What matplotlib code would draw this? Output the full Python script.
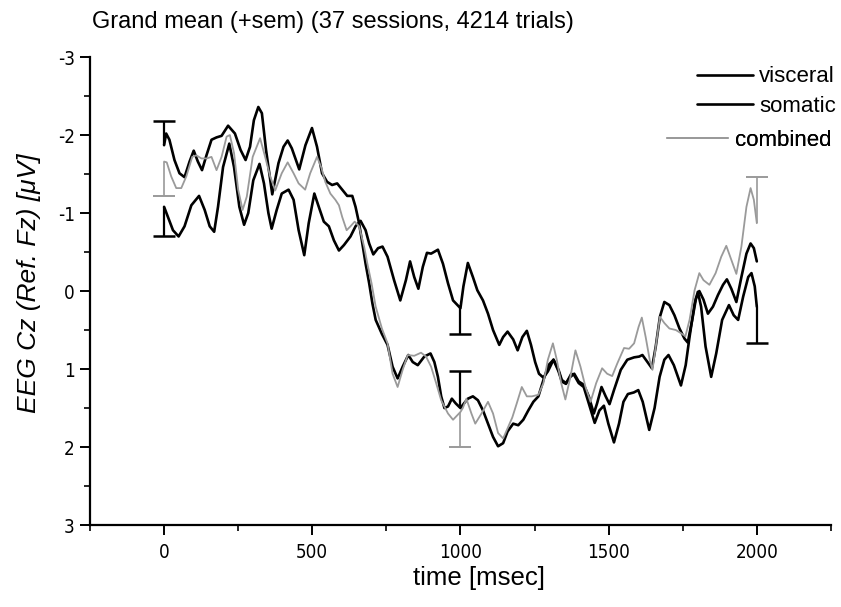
import numpy as np
import matplotlib
matplotlib.use("Agg")
import matplotlib.pyplot as plt
from matplotlib import font_manager
from matplotlib.font_manager import FontProperties
from matplotlib.ticker import MultipleLocator

plt.rcParams["axes.unicode_minus"] = False

# pick a narrow font for tick labels when one is installed
narrow_file = None
for f in font_manager.fontManager.ttflist:
    if f.name == "Liberation Sans Narrow" and f.style == "normal" and f.weight in (400, "normal", "regular"):
        narrow_file = f.fname
        break
if narrow_file is None:
    for f in font_manager.fontManager.ttflist:
        if f.name == "DejaVu Sans" and str(f.stretch) == "condensed" and f.style == "normal" \
                and f.weight in (400, "normal", "regular", "book"):
            narrow_file = f.fname
            break
SANS = "Liberation Sans"
tick_fp = FontProperties(fname=narrow_file, size=13.5) if narrow_file else FontProperties(family=SANS, size=12.5)

# ---------------- data ----------------
visceral_t = [0, 7, 18, 35, 52, 69, 86, 100, 114, 128, 143, 160, 177, 194, 216, 239, 258, 275, 290, 303,
              318, 330, 344, 365, 386, 403, 417, 431, 456, 477, 499, 516, 533, 550, 567, 584, 601, 618, 635,
              646, 658, 669, 680, 692, 703, 714, 735, 754, 771, 788, 805, 824, 839, 856, 878, 899, 912, 924,
              935, 946, 958, 971, 984, 1000, 1012, 1025, 1042, 1059, 1076, 1093, 1110, 1127, 1144, 1159,
              1178, 1195, 1212, 1229, 1246, 1263, 1280, 1297, 1314, 1331, 1342, 1356, 1374, 1384, 1399, 1416,
              1433, 1453, 1469, 1484, 1499, 1518, 1535, 1550, 1565, 1585, 1600, 1615, 1637, 1655, 1672, 1688,
              1702, 1720, 1744, 1760, 1773, 1790, 1801, 1812, 1827, 1846, 1863, 1883, 1906, 1922, 1937, 1954,
              1971, 1982, 1993, 2000]
visceral_v = [-1.87, -2.02, -1.94, -1.68, -1.51, -1.46, -1.66, -1.80, -1.66, -1.55, -1.74, -1.94, -1.97, -1.99,
              -2.12, -2.02, -1.81, -1.68, -1.85, -2.19, -2.36, -2.28, -1.81, -1.24, -1.64, -1.85, -1.93, -1.83,
              -1.56, -1.87, -2.09, -1.85, -1.51, -1.40, -1.36, -1.38, -1.30, -1.22, -1.22, -1.08, -0.87, -0.61,
              -0.35, -0.10, 0.16, 0.37, 0.55, 0.69, 0.97, 1.12, 0.97, 0.82, 0.91, 0.95, 0.84, 0.80, 0.91, 1.10,
              1.35, 1.50, 1.48, 1.38, 1.44, 1.50, 1.44, 1.38, 1.35, 1.40, 1.53, 1.70, 1.87, 1.99, 1.95, 1.80,
              1.70, 1.72, 1.65, 1.53, 1.42, 1.35, 1.14, 0.95, 0.88, 1.03, 1.16, 1.19, 1.06, 1.08, 1.18, 1.23,
              1.44, 1.69, 1.53, 1.47, 1.70, 1.94, 1.70, 1.42, 1.32, 1.30, 1.27, 1.42, 1.78, 1.50, 1.10, 0.88,
              0.82, 0.95, 1.21, 0.95, 0.59, 0.16, 0.01, 0.20, 0.71, 1.10, 0.80, 0.37, 0.18, 0.31, 0.37, 0.07,
              -0.18, -0.23, -0.06, 0.20]

somatic_t = [0, 13, 30, 49, 69, 92, 118, 137, 154, 169, 182, 199, 220, 236, 254, 270, 284, 301, 322, 337, 352,
             363, 380, 397, 420, 437, 454, 473, 488, 507, 522, 539, 556, 573, 590, 607, 629, 646, 663, 680, 692,
             706, 722, 737, 754, 776, 797, 816, 830, 844, 858, 873, 887, 901, 924, 941, 958, 975, 1000, 1010,
             1025, 1042, 1057, 1076, 1093, 1110, 1131, 1144, 1159, 1178, 1193, 1209, 1224, 1238, 1252, 1265,
             1280, 1295, 1314, 1331, 1342, 1356, 1371, 1384, 1399, 1416, 1433, 1450, 1461, 1476, 1490, 1503,
             1518, 1541, 1563, 1586, 1603, 1614, 1631, 1646, 1659, 1673, 1688, 1705, 1722, 1739, 1756, 1767,
             1782, 1795, 1806, 1820, 1835, 1852, 1869, 1886, 1899, 1914, 1931, 1948, 1965, 1979, 1990, 2000]
somatic_v = [-1.08, -0.95, -0.78, -0.70, -0.83, -1.10, -1.22, -1.04, -0.83, -0.76, -1.08, -1.59, -1.89, -1.59,
             -1.08, -0.85, -1.00, -1.42, -1.63, -1.38, -1.00, -0.80, -1.04, -1.25, -1.30, -1.17, -0.78, -0.46,
             -0.87, -1.25, -1.08, -0.89, -0.83, -0.65, -0.52, -0.59, -0.70, -0.83, -0.90, -0.78, -0.61, -0.47,
             -0.55, -0.57, -0.44, -0.14, 0.12, -0.14, -0.38, -0.18, -0.03, -0.31, -0.49, -0.48, -0.53, -0.35,
             -0.10, 0.12, 0.22, -0.06, -0.36, -0.18, -0.01, 0.12, 0.29, 0.50, 0.69, 0.59, 0.52, 0.62, 0.76,
             0.59, 0.51, 0.69, 0.91, 1.06, 1.11, 1.03, 0.88, 1.01, 1.14, 1.18, 1.10, 1.06, 1.16, 1.20, 1.35,
             1.57, 1.44, 1.23, 1.35, 1.45, 1.27, 1.01, 0.88, 0.85, 0.84, 0.82, 0.91, 0.99, 0.71, 0.33, 0.14,
             0.18, 0.31, 0.48, 0.61, 0.66, 0.37, 0.09, 0.00, 0.11, 0.29, 0.20, 0.05, -0.08, -0.15, -0.03, 0.14,
             -0.18, -0.48, -0.61, -0.55, -0.38]

combined_t = [0, 9, 24, 41, 58, 75, 95, 109, 126, 143, 160, 177, 194, 211, 222, 236, 250, 265, 279, 299, 324,
              341, 358, 375, 397, 417, 437, 454, 476, 493, 516, 530, 544, 561, 578, 590, 601, 616, 629, 643,
              658, 675, 686, 700, 714, 735, 754, 771, 788, 805, 822, 844, 867, 884, 901, 918, 935, 958, 975,
              1000, 1008, 1020, 1037, 1050, 1071, 1093, 1110, 1127, 1144, 1159, 1175, 1190, 1207, 1224, 1241,
              1263, 1280, 1295, 1312, 1325, 1340, 1354, 1371, 1388, 1405, 1422, 1439, 1458, 1478, 1495, 1512,
              1529, 1552, 1569, 1586, 1601, 1612, 1625, 1639, 1648, 1659, 1673, 1688, 1705, 1727, 1744, 1759,
              1773, 1790, 1806, 1820, 1840, 1861, 1880, 1897, 1914, 1931, 1948, 1965, 1979, 1990, 2000]
combined_v = [-1.66, -1.65, -1.47, -1.32, -1.32, -1.47, -1.72, -1.74, -1.70, -1.70, -1.72, -1.55, -1.72, -1.98,
              -2.00, -1.77, -1.30, -1.04, -1.21, -1.72, -1.96, -1.72, -1.47, -1.29, -1.51, -1.65, -1.51, -1.38,
              -1.30, -1.51, -1.72, -1.59, -1.40, -1.25, -1.17, -1.10, -0.95, -0.78, -0.83, -0.89, -0.83, -0.57,
              -0.35, -0.10, 0.20, 0.48, 0.67, 1.06, 1.23, 1.01, 0.82, 0.83, 0.79, 0.84, 0.97, 1.18, 1.40, 1.57,
              1.65, 1.55, 1.50, 1.38, 1.57, 1.70, 1.57, 1.42, 1.57, 1.82, 1.89, 1.76, 1.62, 1.44, 1.23, 1.35,
              1.35, 1.33, 1.18, 0.88, 0.67, 0.88, 1.18, 1.39, 1.10, 0.76, 0.97, 1.23, 1.42, 1.18, 0.99, 1.06,
              1.09, 0.93, 0.73, 0.74, 0.67, 0.46, 0.34, 0.59, 0.89, 1.01, 0.71, 0.33, 0.41, 0.48, 0.50, 0.54,
              0.58, 0.37, -0.01, -0.23, -0.14, -0.08, -0.23, -0.44, -0.58, -0.40, -0.22, -0.57, -1.08, -1.32,
              -1.17, -0.87]

# sem bars: time, and the value where the bar ends (bar starts at the curve)
visceral_sem_t = [0, 1000, 2000]
visceral_sem_end = [-2.18, 1.03, 0.67]
somatic_sem_t = [0, 1000]
somatic_sem_end = [-0.70, 0.55]
combined_sem_t = [0, 1000, 2000]
combined_sem_end = [-1.22, 2.00, -1.46]

labels = ["visceral", "somatic", "combined"]
title = "Grand mean (+sem) (37 sessions, 4214 trials)"
xlabel = "time [msec]"
ylabel = "EEG Cz (Ref. Fz) [\u03bcV]"
xticks = [0, 500, 1000, 1500, 2000]
yticks = [-3, -2, -1, 0, 1, 2, 3]

# ---------------- figure ----------------
W, H = 841, 607
fig = plt.figure(figsize=(W / 100, H / 100), dpi=100)
ax = fig.add_axes([0.107, 0.135, 0.881, 0.771])

GRAY = "#9a9a9a"
series = [
    (visceral_t, visceral_v, visceral_sem_t, visceral_sem_end, "black", 1.9, labels[0]),
    (somatic_t, somatic_v, somatic_sem_t, somatic_sem_end, "black", 1.9, labels[1]),
    (combined_t, combined_v, combined_sem_t, combined_sem_end, GRAY, 1.3, labels[2]),
]
handles = []
for t, v, st, se, col, lw, lab in series:
    h, = ax.plot(t, v, color=col, lw=lw, label=lab, solid_joinstyle="round", solid_capstyle="round")
    handles.append(h)
    start = np.interp(st, t, v)
    blw = 1.6 if col == "black" else 1.2
    ax.vlines(st, start, se, color=col, lw=blw)
    ax.plot(st, se, ls="none", marker="_", ms=16, mew=blw + 0.2, color=col)

ax.set_xlim(-250, 2250)
ax.set_ylim(3, -3)
ax.set_xticks(xticks)
ax.set_yticks(yticks)
ax.xaxis.set_minor_locator(MultipleLocator(250))
ax.yaxis.set_minor_locator(MultipleLocator(0.5))
ax.tick_params(which="major", length=7, width=1.4, direction="out")
ax.tick_params(which="minor", length=4, width=1.2, direction="out")
for lab in ax.get_xticklabels() + ax.get_yticklabels():
    lab.set_fontproperties(tick_fp)
ax.tick_params(axis="x", pad=6)
ax.tick_params(axis="y", pad=4)
for s in ["top", "right"]:
    ax.spines[s].set_visible(False)
for s in ["left", "bottom"]:
    ax.spines[s].set_linewidth(1.6)

ax.set_xlabel(xlabel, fontsize=18.5, fontfamily=SANS)
ax.xaxis.set_label_coords((479 - 90) / (0.881 * W), -(578 - 525) / (0.771 * H), transform=ax.transAxes)
ax.xaxis.label.set_va("center")
ax.set_ylabel(ylabel, fontsize=19, fontfamily=SANS, fontstyle="italic")
ax.yaxis.set_label_coords(-(90 - 29) / (0.881 * W), (525 - 283) / (0.771 * H), transform=ax.transAxes)
ax.yaxis.label.set_va("center")
fig.text(92 / W, 1 - 22 / H, title, fontsize=17, fontfamily=SANS, ha="left", va="center")

# legend entries, placed one by one like in the original
legend_rows = [(0, 697, 77, 2.5), (1, 697, 106, 2.5), (2, 667, 140, 2.75)]
for i, x0, y0, hl in legend_rows:
    lg = ax.legend(handles=[handles[i]], loc="center left", bbox_to_anchor=(x0 / W, 1 - y0 / H),
                   bbox_transform=fig.transFigure, frameon=False, prop={"family": SANS, "size": 16},
                   handlelength=hl, handletextpad=0.3, borderpad=0, borderaxespad=0)
    ax.add_artist(lg)

fig.savefig("out.png", dpi=100)
